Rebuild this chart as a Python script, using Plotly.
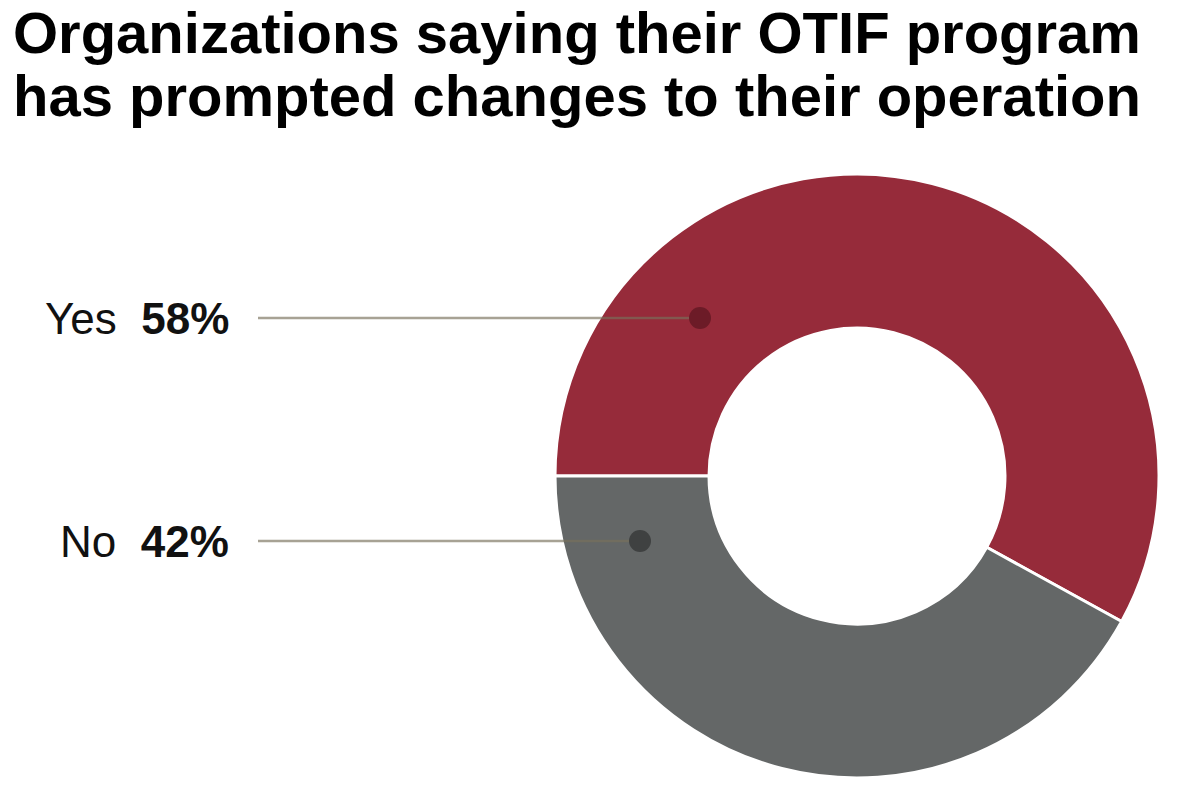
import plotly.graph_objects as go

labels = ["Yes", "No"]
values = [58, 42]
colors = ["#962B3A", "#646767"]
dot_colors = ["#6C1B27", "#3F4141"]
label_y_px = [310, 533]
dot_x_px = [692, 632]
title_lines = ["Organizations saying their OTIF program",
               "has prompted changes to their operation"]
title_top_px = [-9, 54]

W, H = 1200, 791
fig = go.Figure()
fig.add_trace(go.Pie(
    labels=labels, values=values, hole=0.49, sort=False,
    direction="clockwise", rotation=-90,
    marker=dict(colors=colors, line=dict(color="white", width=3)),
    textinfo="none", hoverinfo="label+percent", showlegend=False,
    domain=dict(x=[547 / W, 1151 / W], y=[1 - 770 / H, 1 - 166 / H]),
))

shapes = []
annotations = []
for lab, v, y, dx, dc in zip(labels, values, label_y_px, dot_x_px, dot_colors):
    yp = 1 - y / H
    shapes.append(dict(type="line", xref="paper", yref="paper",
                       x0=250 / W, x1=dx / W, y0=yp, y1=yp,
                       line=dict(color="rgba(120,112,90,0.65)", width=2.5)))
    r = 11
    shapes.append(dict(type="circle", xref="paper", yref="paper",
                       x0=(dx - r) / W, x1=(dx + r) / W,
                       y0=(H - y - r) / H, y1=(H - y + r) / H,
                       fillcolor=dc, line=dict(width=0)))
    annotations.append(dict(xref="paper", yref="paper", x=223 / W, y=yp,
                            xanchor="right", yanchor="middle", showarrow=False,
                            text=f"{lab}  <b>{v}%</b>",
                            font=dict(family="Liberation Sans, Arial", size=44, color="#111")))

for line, top in zip(title_lines, title_top_px):
    annotations.append(dict(xref="paper", yref="paper", x=4 / W, y=1 - top / H,
                            xanchor="left", yanchor="top", showarrow=False, align="left",
                            borderpad=0,
                            text=f"<b>{line}</b>",
                            font=dict(family="Liberation Sans, Arial", size=58, color="#000")))

fig.update_layout(width=W, height=H, margin=dict(l=0, r=0, t=0, b=0),
                  paper_bgcolor="white", plot_bgcolor="white",
                  shapes=shapes, annotations=annotations)
fig.write_html("out.html")
